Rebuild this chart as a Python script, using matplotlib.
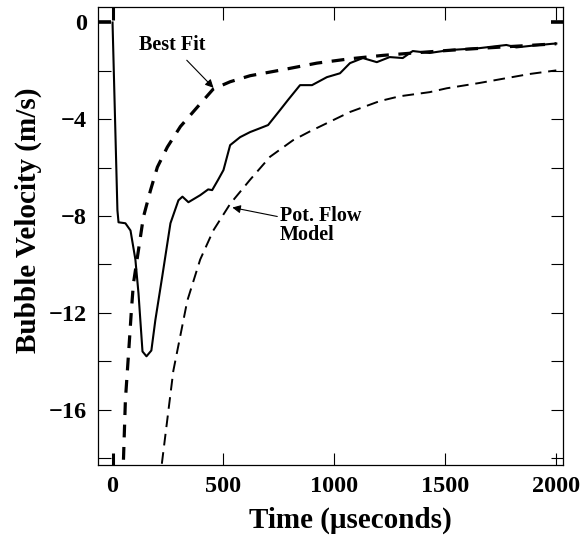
import matplotlib
matplotlib.use("Agg")
import matplotlib.pyplot as plt
from matplotlib.ticker import MultipleLocator

plt.rcParams["font.family"] = ["Liberation Serif", "DejaVu Serif"]
plt.rcParams["font.weight"] = "bold"

# measured bubble velocity
time_meas = [0, 22, 27, 58, 81, 103, 117, 135, 153, 175, 193, 224, 261, 297,
             315, 342, 395, 431, 449, 476, 500, 530, 575, 620, 665, 701, 755,
             791, 845, 899, 966, 1025, 1070, 1128, 1191, 1249, 1308, 1353,
             1429, 1519, 1654, 1775, 1820, 1900, 1982, 2000]
vel_meas = [0.0, -7.76, -8.26, -8.3, -8.6, -9.8, -11.2, -13.6, -13.8, -13.56,
            -12.3, -10.5, -8.3, -7.35, -7.2, -7.43, -7.14, -6.9, -6.93, -6.5,
            -6.1, -5.07, -4.74, -4.53, -4.37, -4.24, -3.62, -3.2, -2.59, -2.59,
            -2.26, -2.1, -1.68, -1.47, -1.64, -1.43, -1.47, -1.18, -1.26,
            -1.14, -1.06, -0.93, -1.03, -0.95, -0.88, -0.87]

# best fit curve
time_fit = [46, 58, 75, 85, 94, 117, 139, 171, 202, 247, 306, 382, 454, 530,
            620, 769, 921, 1070, 1218, 1371, 1519, 1654, 1800, 2000]
vel_fit = [-19.0, -15.6, -13.3, -11.9, -10.8, -9.4, -8.05, -6.94, -5.98,
           -5.15, -4.3, -3.5, -2.75, -2.45, -2.2, -1.95, -1.68, -1.5, -1.36,
           -1.25, -1.15, -1.07, -0.99, -0.88]

# potential flow model
time_pot = [212, 274, 337, 395, 454, 530, 620, 710, 813, 890, 1070, 1204,
            1294, 1429, 1506, 1654, 1879, 2000]
vel_pot = [-19.0, -14.4, -11.5, -9.8, -8.6, -7.5, -6.5, -5.55, -4.87, -4.5,
           -3.7, -3.25, -3.05, -2.88, -2.72, -2.5, -2.13, -1.98]

fig = plt.figure(figsize=(5.84, 5.39), dpi=100)
ax = fig.add_axes([0.168, 0.137, 0.796, 0.850])

ax.plot(time_meas, vel_meas, color="black", lw=1.5)
ax.plot(time_fit, vel_fit, color="black", lw=2.3, dashes=(4, 3))
ax.plot(time_pot, vel_pot, color="black", lw=1.4, dashes=(6, 3.5))

ax.set_xlim(-65, 2030)
ax.set_ylim(-18.3, 0.64)

ax.xaxis.set_major_locator(MultipleLocator(500))
ax.yaxis.set_major_locator(MultipleLocator(4))
ax.yaxis.set_minor_locator(MultipleLocator(2))
ax.tick_params(which="both", direction="in", top=True, right=True,
               length=9, width=0.8, labelsize=17.5, pad=8)
for lbl in ax.get_xticklabels() + ax.get_yticklabels():
    lbl.set_fontweight("bold")
for spine in ax.spines.values():
    spine.set_linewidth(0.9)

# zero ticks drawn heavier
for t in ax.xaxis.get_major_ticks():
    if abs(t.get_loc()) < 1e-9:
        t.tick1line.set_markeredgewidth(2.2)
        t.tick2line.set_markeredgewidth(2.2)
for t in ax.yaxis.get_major_ticks():
    if abs(t.get_loc()) < 1e-9:
        t.tick1line.set_markeredgewidth(2.6)
        t.tick2line.set_markeredgewidth(2.6)

ax.set_xlabel("Time (\u03bcseconds)", fontsize=21, fontweight="bold")
ax.set_ylabel("Bubble Velocity (m/s)", fontsize=21, fontweight="bold")
ax.xaxis.set_label_coords(0.543, -0.09)
ax.yaxis.set_label_coords(-0.12, 0.535)

ax.annotate("Best Fit", xy=(455, -2.7), xytext=(270, -0.95),
            fontsize=14.5, fontweight="bold", ha="center", va="center",
            arrowprops=dict(arrowstyle="-|>", color="black", lw=0.8,
                            mutation_scale=12, shrinkA=2, shrinkB=0))
ax.annotate("Pot. Flow\nModel", xy=(540, -7.65), xytext=(755, -8.4),
            fontsize=14.5, fontweight="bold", ha="left", va="center",
            linespacing=0.95,
            arrowprops=dict(arrowstyle="-|>", color="black", lw=0.8,
                            mutation_scale=12, shrinkA=0, shrinkB=0,
                            relpos=(0.0, 0.72)))

fig.savefig("out.png", dpi=100, facecolor="white")
